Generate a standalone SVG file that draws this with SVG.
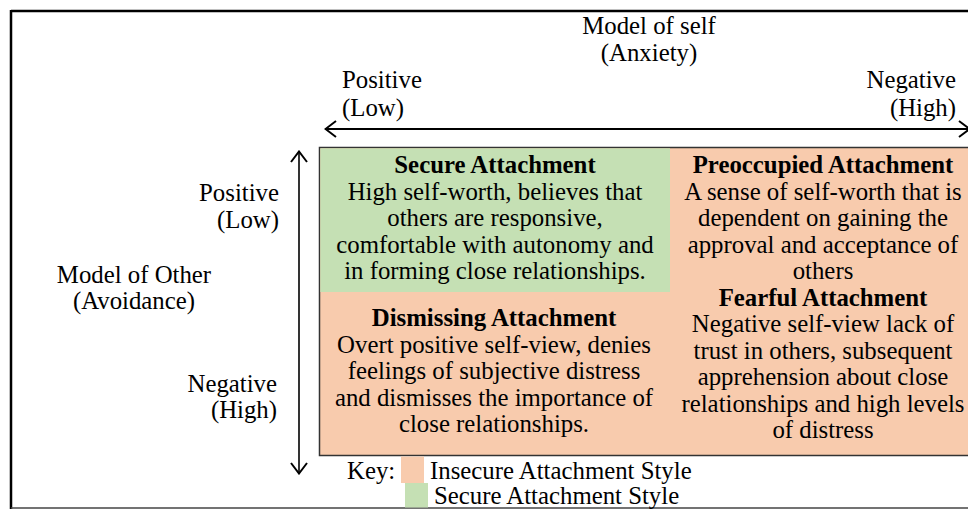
<svg xmlns="http://www.w3.org/2000/svg" width="968" height="509" viewBox="0 0 968 509">
  <style>
    text { font-family: "Liberation Serif", "DejaVu Serif", serif; font-size: 24.8px; fill: #000; }
    .b { font-weight: bold; }
    .c { text-anchor: middle; }
    .r { text-anchor: end; }
    .ax { stroke: #000; fill: none; }
  </style>
  <defs>
    <marker id="chev" viewBox="0 0 14 18" refX="13" refY="9" markerWidth="14" markerHeight="18" markerUnits="userSpaceOnUse" orient="auto-start-reverse">
      <path d="M2,1 L12.5,9 L2,17" fill="none" stroke="#000" stroke-width="2"/>
    </marker>
  </defs>
  <rect width="968" height="509" fill="#fff"/>

  <!-- outer frame -->
  <g id="frame">
    <line x1="11" y1="11" x2="968" y2="11" stroke="#000" stroke-width="2.5"/>
    <line x1="11" y1="10" x2="11" y2="509" stroke="#000" stroke-width="2.5"/>
    <line x1="11" y1="508" x2="968" y2="508" stroke="#444" stroke-width="1.5"/>
  </g>

  <g font-family="Liberation Serif, DejaVu Serif, serif">
  <!-- axis labels -->
  <g id="self-axis-label">
    <text class="c" x="649" y="34">Model of self</text>
    <text class="c" x="649" y="61">(Anxiety)</text>
    <text x="342" y="88">Positive</text>
    <text x="342" y="116">(Low)</text>
    <text class="r" x="956" y="88">Negative</text>
    <text class="r" x="956" y="116">(High)</text>
  </g>
  <g id="other-axis-label">
    <text class="r" x="279" y="201">Positive</text>
    <text class="r" x="279" y="228">(Low)</text>
    <text class="c" x="134" y="283">Model of Other</text>
    <text class="c" x="134" y="309">(Avoidance)</text>
    <text class="r" x="277" y="392">Negative</text>
    <text class="r" x="277" y="418">(High)</text>
  </g>

  <!-- grid background (insecure area) -->
  <g id="grid">
    <rect x="319.5" y="147.5" width="660" height="308" fill="#F8CBAD" stroke="#333" stroke-width="1.5"/>
  </g>

  <g id="secure">
    <rect x="320.3" y="148.3" width="349.7" height="143.7" fill="#C5E0B4"/>
    <text class="c b" x="495" y="173">Secure Attachment</text>
    <text class="c" x="495" y="199.5">High self-worth, believes that</text>
    <text class="c" x="495" y="226">others are responsive,</text>
    <text class="c" x="495" y="252.5">comfortable with autonomy and</text>
    <text class="c" x="495" y="279">in forming close relationships.</text>
  </g>

  <g id="preoccupied">
    <text class="c b" x="823" y="173">Preoccupied Attachment</text>
    <text class="c" x="823" y="199.5">A sense of self-worth that is</text>
    <text class="c" x="823" y="226">dependent on gaining the</text>
    <text class="c" x="823" y="252.5">approval and acceptance of</text>
    <text class="c" x="823" y="279">others</text>
  </g>

  <g id="dismissing">
    <text class="c b" x="494" y="326">Dismissing Attachment</text>
    <text class="c" x="494" y="352.5">Overt positive self-view, denies</text>
    <text class="c" x="494" y="379">feelings of subjective distress</text>
    <text class="c" x="494" y="405.5">and dismisses the importance of</text>
    <text class="c" x="494" y="432">close relationships.</text>
  </g>

  <g id="fearful">
    <text class="c b" x="823" y="305.5">Fearful Attachment</text>
    <text class="c" x="823" y="332">Negative self-view lack of</text>
    <text class="c" x="823" y="358.5">trust in others, subsequent</text>
    <text class="c" x="823" y="385">apprehension about close</text>
    <text class="c" x="823" y="411.5">relationships and high levels</text>
    <text class="c" x="823" y="438">of distress</text>
  </g>

  <!-- connectors (axes) -->
  <g id="connectors">
    <line class="ax" x1="325" y1="129" x2="970" y2="129" stroke-width="2" marker-start="url(#chev)" marker-end="url(#chev)"/>
    <line class="ax" x1="299" y1="151" x2="299" y2="474" stroke-width="1.6" marker-start="url(#chev)" marker-end="url(#chev)"/>
  </g>

  <!-- key -->
  <g id="key">
    <text x="347" y="479">Key:</text>
    <rect x="401" y="456.5" width="23" height="26.5" fill="#F8CBAD"/>
    <text x="430" y="479">Insecure Attachment Style</text>
    <rect x="405" y="483" width="23" height="24.5" fill="#C5E0B4"/>
    <text x="434" y="504">Secure Attachment Style</text>
  </g>
  </g>
</svg>
